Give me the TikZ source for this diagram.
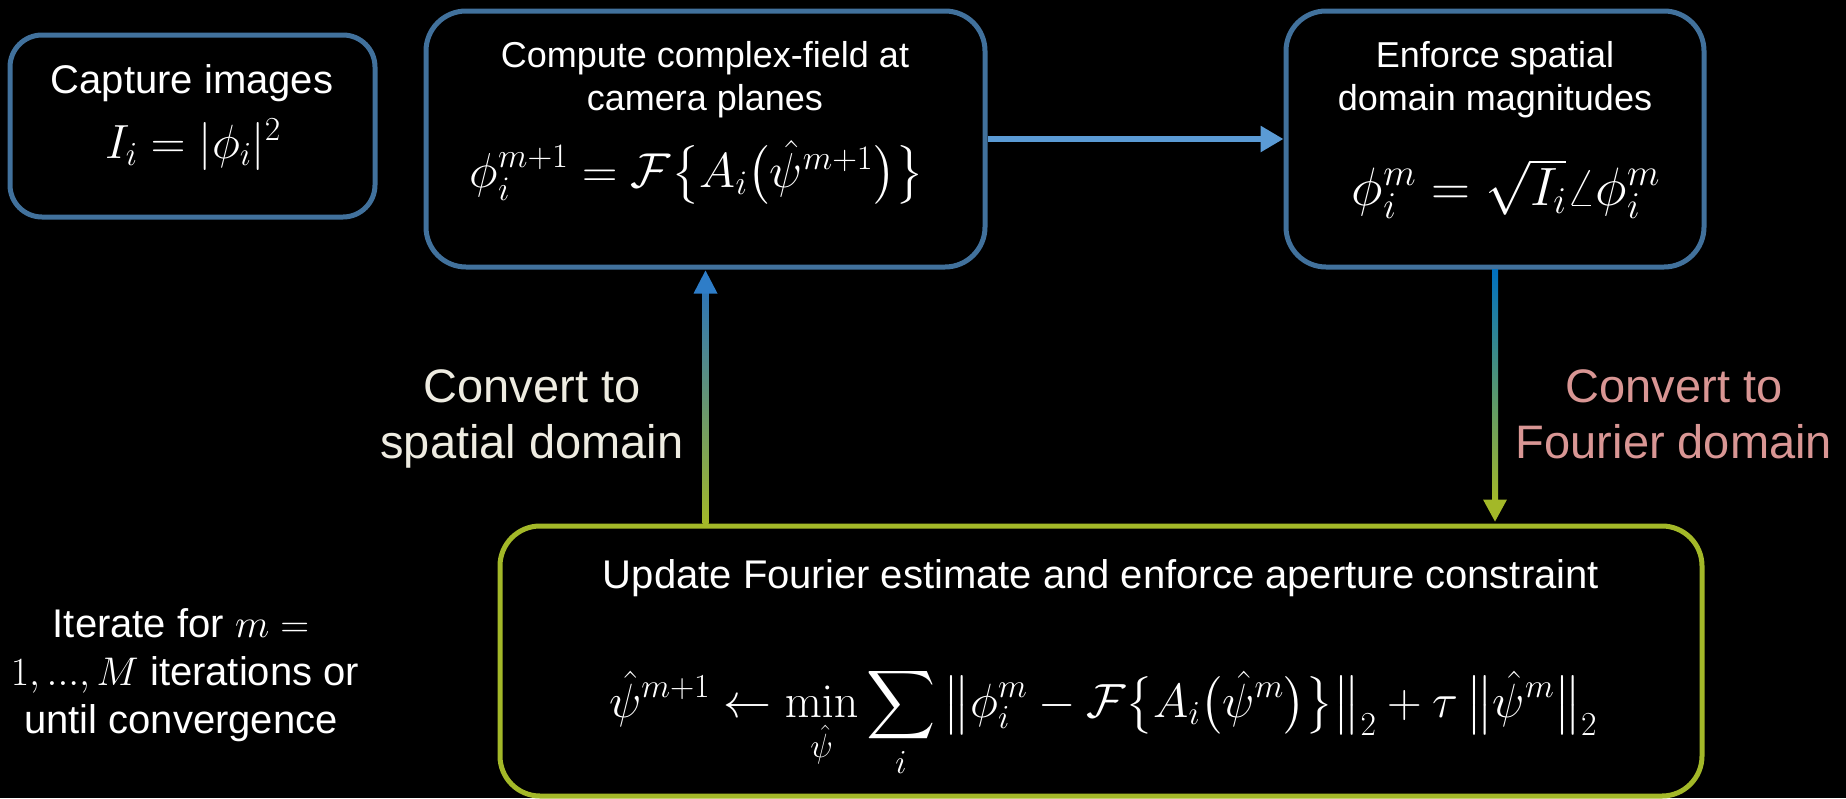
\RequirePackage{fix-cm}
\documentclass[tikz,border=0pt]{standalone}
\usepackage{amsmath}
\usepackage[no-math]{fontspec}
\setmainfont{Liberation Sans}
\DeclareFontShape{OMX}{cmex}{m}{n}{<->cmex10}{}
\DeclareSymbolFont{largesymbols}{OMX}{cmex}{m}{n}
\usetikzlibrary{arrows.meta,calc}
\definecolor{boxblue}{RGB}{65,113,156}
\definecolor{boxgreen}{RGB}{163,184,40}
\definecolor{arrblue}{RGB}{91,155,213}
\definecolor{shaftblue}{RGB}{46,117,182}
\definecolor{headblue}{RGB}{46,125,200}
\definecolor{shaftbluetwo}{RGB}{0,112,192}
\definecolor{labelcream}{RGB}{238,236,225}
\definecolor{labelpink}{RGB}{217,150,148}
\tikzset{
  box/.style={draw=boxblue, line width=5pt, rounded corners=40pt, inner sep=0pt, fill=black},
  txt/.style={text=white, inner sep=0pt, anchor=base},
  fa/.style={font=\fontsize{40}{48}\selectfont},
  fb/.style={font=\fontsize{36}{43}\selectfont},
  fl/.style={font=\fontsize{47}{56}\selectfont},
}
\begin{document}
\begin{tikzpicture}[x=1pt,y=-1pt]
\fill[black] (0,0) rectangle (1846,798);
\useasboundingbox (0,0) rectangle (1846,798);
% boxes
\node[box, rounded corners=32pt, minimum width=365pt, minimum height=182pt] (cap) at (192.5,126) {};
\node[box, minimum width=559pt, minimum height=256pt] (cmp) at (705.5,139) {};
\node[box, minimum width=418pt, minimum height=256pt] (enf) at (1495,139) {};
\node[box, draw=boxgreen, minimum width=1202pt, minimum height=270pt] (upd) at (1101,661) {};
% texts
\node[txt, fa] (capt) at (192,93) {Capture images};
\node[txt, font=\fontsize{48}{54}\selectfont] (capf) at (193,158) {$I_i = |\phi_i|^2$};
\node[txt, fb] (cmpt1) at (705,67) {Compute complex-field at};
\node[txt, fb] (cmpt2) at (705,110) {camera planes};
\node[txt, font=\fontsize{49}{54}\selectfont] (cmpf) at (697,187) {$\phi_i^{m+1} = \mathcal{F}\big\{A_i\big(\hat{\psi}^{m+1}\big)\big\}$};
\node[txt, fb] (enft1) at (1495,67) {Enforce spatial};
\node[txt, fb] (enft2) at (1495,110) {domain magnitudes};
\node[txt, font=\fontsize{54}{60}\selectfont] (enff) at (1506,205) {$\phi_i^m = \sqrt{I_i}\angle\phi_i^m$};
\node[txt, fa] (updt) at (1101,588) {Update Fourier estimate and enforce aperture constraint};
\node[txt, font=\fontsize{48}{54}\selectfont] (updf) at (1103,717) {$\displaystyle \hat{\psi}^{m+1} \leftarrow \min_{\hat{\psi}} \sum_i \big\|\phi_i^m - \mathcal{F}\big\{A_i\big(\hat{\psi}^m\big)\big\}\big\|_2 + \tau\,\big\|\hat{\psi}^m\big\|_2$};
\node[txt, fa] (it1) at (181,637) {Iterate for $m =$};
\node[txt, fa] (it2) at (185,685) {$1,{\ldotp}{\ldotp}{\ldotp},M$ iterations or};
\node[txt, fa] (it3) at (181,733) {until convergence};
\node[txt, fl, text=labelcream] (sp1) at (532,402) {Convert to};
\node[txt, fl, text=labelcream] (sp2) at (532,458) {spatial domain};
\node[txt, fl, text=labelpink] (fo1) at (1674,402) {Convert to};
\node[txt, fl, text=labelpink] (fo2) at (1674,458) {Fourier domain};
% right arrow
\draw[arrblue, line width=6pt, -{Triangle[length=23pt,width=25pt]}] (cmp.east) -- (enf.west);
% up arrow
\coordinate (ua) at (upd.north -| cmp.south);
\coordinate (ub) at (cmp.south);
\shade[top color=shaftblue, bottom color=boxgreen] ($(ua)+(-3,0)$) rectangle ($(ub)+(3,22)$);
\fill[headblue] ($(ub)+(0,1)$) -- ($(ub)+(-12,24)$) -- ($(ub)+(12,24)$) -- cycle;
% down arrow
\coordinate (da) at (enf.south);
\coordinate (db) at (upd.north -| enf.south);
\shade[top color=shaftbluetwo, bottom color=boxgreen] ($(da)+(-3,0)$) rectangle ($(db)+(3,-22)$);
\fill[boxgreen] ($(db)+(0,-2)$) -- ($(db)+(-12,-24)$) -- ($(db)+(12,-24)$) -- cycle;
\end{tikzpicture}
\end{document}
